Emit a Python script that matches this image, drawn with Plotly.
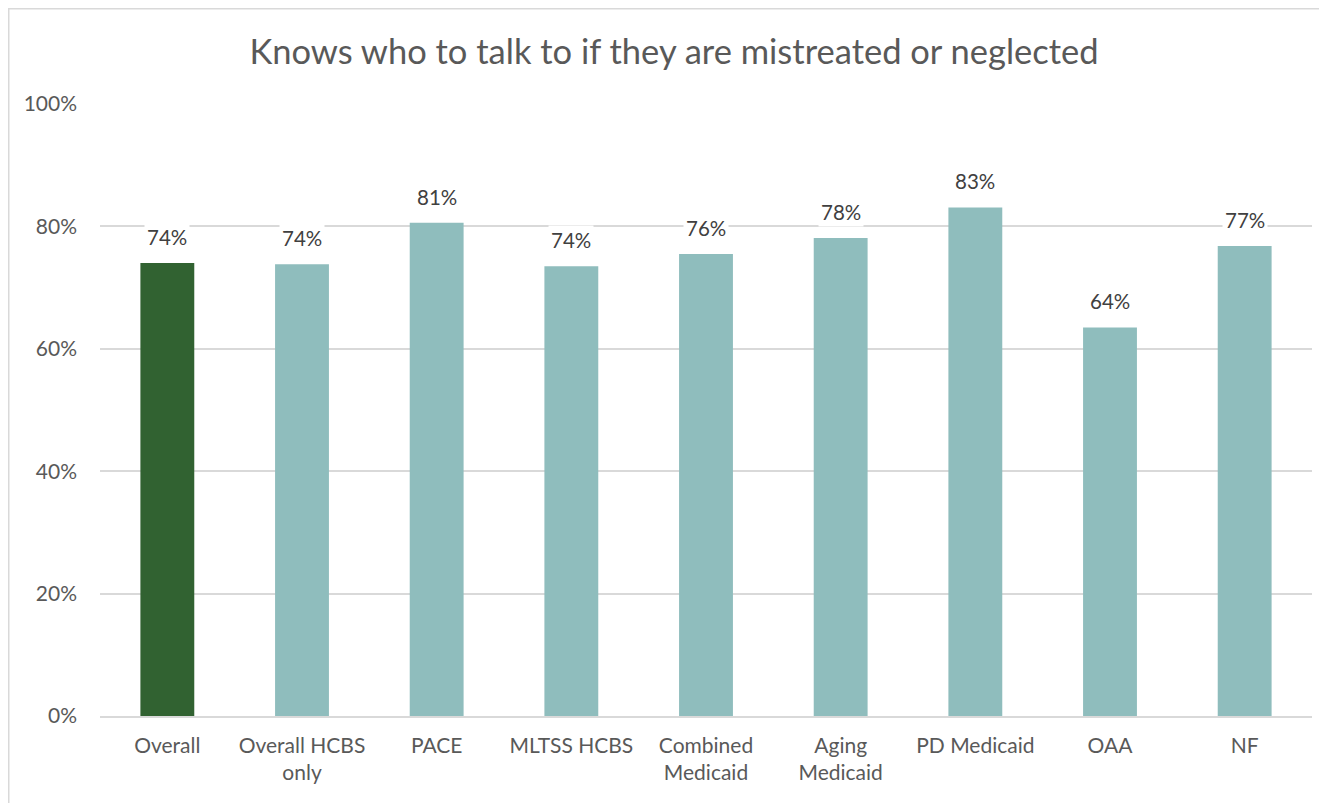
import plotly.graph_objects as go

categories = ["Overall", "Overall HCBS<br>only", "PACE", "MLTSS HCBS", "Combined<br>Medicaid",
              "Aging<br>Medicaid", "PD Medicaid", "OAA", "NF"]
values = [0.740, 0.738, 0.806, 0.735, 0.755, 0.781, 0.831, 0.635, 0.768]
labels = ["74%", "74%", "81%", "74%", "76%", "78%", "83%", "64%", "77%"]
colors = ["#316231"] + ["#8FBDBD"] * 8

# page has an 8px body margin; size figure to fit
W, H = 1319, 795
L, R, T, B = 92, 15, 96, 87
pw, ph = W - L - R, H - T - B

fig = go.Figure()
fig.add_trace(go.Bar(x=categories, y=values, marker=dict(color=colors, line=dict(width=0)),
                     hoverinfo="skip"))

for c, v, t in zip(categories, values, labels):
    fig.add_annotation(x=c, y=v, text=t, showarrow=False, yshift=26, bgcolor="white",
                       font=dict(family="Lato", size=20.5, color="#404040"), borderpad=2)

# outer chart border (top and left visible)
fig.add_shape(type="rect", xref="paper", yref="paper",
              x0=(0.75 - L) / pw, x1=(W + 20 - L) / pw,
              y0=-(B + 20) / ph, y1=(H - 0.75 - B) / ph,
              line=dict(color="#D9D9D9", width=1.5), fillcolor="rgba(0,0,0,0)", layer="below")

fig.update_layout(
    width=W, height=H,
    margin=dict(l=L, r=R, t=T, b=B),
    paper_bgcolor="white", plot_bgcolor="white",
    title=dict(text="Knows who to talk to if they are mistreated or neglected",
               x=666 / W, xanchor="center", y=1 - 44 / H, yanchor="middle",
               font=dict(family="Lato", size=34.5, color="#595959")),
    bargap=0.6,
    showlegend=False,
    font=dict(family="Lato", color="#595959"),
)
fig.update_yaxes(range=[0, 1], tickvals=[0, 0.2, 0.4, 0.6, 0.8, 1.0],
                 ticktext=["0%", "20%", "40%", "60%", "80%", "100%"],
                 showgrid=True, gridcolor="#D9D9D9", gridwidth=1.5, zeroline=False,
                 showline=False, ticks="", ticklabelstandoff=22,
                 tickfont=dict(family="Lato", size=21, color="#595959"))
fig.update_xaxes(showline=True, linecolor="#D9D9D9", linewidth=1.5, ticks="",
                 ticklabelstandoff=10,
                 tickfont=dict(family="Lato", size=21, color="#595959"))

fig.write_html("out.html")
